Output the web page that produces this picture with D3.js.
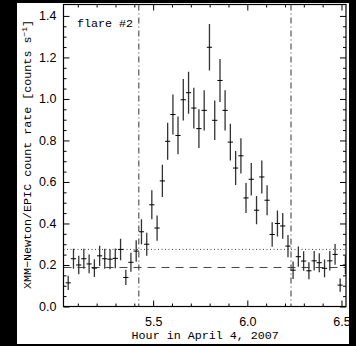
<!DOCTYPE html>
<style>
body {
  margin: 0;
  background: #000;
}
.tick text {
  font-family: 'Liberation Sans', sans-serif;
  font-size: 12.5px;
  fill: #000;
}
.lab {
  font-family: 'Liberation Mono', monospace;
  font-size: 11.7px;
  fill: #000;
}
</style>
<svg width="356" height="346"></svg>
<script src="https://d3js.org/d3.v7.min.js"></script>
<script>
// light curve, 100 s bins (hours on April 4, 2007)
var times = [5.049, 5.077, 5.105, 5.132, 5.160, 5.188, 5.216, 5.243, 5.271, 5.299,
             5.327, 5.355, 5.382, 5.410, 5.438, 5.466, 5.493, 5.521, 5.549, 5.577,
             5.605, 5.632, 5.660, 5.688, 5.716, 5.743, 5.771, 5.799, 5.827, 5.855,
             5.882, 5.910, 5.938, 5.966, 5.993, 6.021, 6.049, 6.077, 6.105, 6.132,
             6.160, 6.188, 6.216, 6.243, 6.271, 6.299, 6.327, 6.355, 6.382, 6.410,
             6.438, 6.466, 6.493, 6.521];
var rates = [0.114, 0.230, 0.200, 0.230, 0.205, 0.185, 0.244, 0.230, 0.228, 0.232,
             0.275, 0.140, 0.213, 0.267, 0.360, 0.300, 0.490, 0.378, 0.605, 0.796,
             0.925, 0.824, 0.996, 1.030, 0.956, 0.857, 0.945, 1.249, 0.897, 1.089,
             0.945, 0.792, 0.667, 0.726, 0.523, 0.613, 0.464, 0.624, 0.512, 0.347,
             0.400, 0.388, 0.291, 0.175, 0.240, 0.219, 0.172, 0.220, 0.211, 0.184,
             0.220, 0.251, 0.103, 0.200];
var errs = [0.034, 0.048, 0.045, 0.048, 0.045, 0.043, 0.049, 0.048, 0.048, 0.048,
            0.052, 0.037, 0.046, 0.052, 0.060, 0.055, 0.070, 0.061, 0.078, 0.089,
            0.096, 0.091, 0.100, 0.101, 0.098, 0.093, 0.097, 0.112, 0.095, 0.104,
            0.097, 0.089, 0.082, 0.085, 0.072, 0.078, 0.068, 0.079, 0.072, 0.059,
            0.063, 0.062, 0.054, 0.042, 0.049, 0.047, 0.041, 0.047, 0.046, 0.043,
            0.047, 0.050, 0.032, 0.045];
var binHalf = 50 / 3600;

var flareStart = 5.424, flareEnd = 6.232;   // dash-dot markers
var quiescent = 0.188;                      // dashed level
var threshold = 0.275;                      // dotted level

var xTicks = [5.5, 6.0, 6.5];
var yTicks = [0.0, 0.2, 0.4, 0.6, 0.8, 1.0, 1.2, 1.4];

var svg = d3.select("svg");
var L = 63.5, R = 346, T = 4.5, B = 306.5;

svg.append("rect")
    .attr("x", 17).attr("y", 3)
    .attr("width", 332).attr("height", 341)
    .attr("fill", "#fff");

var x = d3.scaleLinear().domain([5.024, 6.524]).range([L, R]);
var y = d3.scaleLinear().domain([0, 1.455]).range([B, T]);

var xMinor = d3.range(5.1, 6.55, 0.1).filter(function(v) { return Math.abs(v * 2 - Math.round(v * 2)) > 0.01; });
var yMinor = d3.range(0.05, 1.45, 0.05).filter(function(v) { return Math.abs(v * 5 - Math.round(v * 5)) > 0.01; });

function clean(g) { g.select(".domain").remove(); g.selectAll("line").attr("stroke", "#000"); }

svg.append("g").attr("transform", "translate(0," + B + ")")
    .call(d3.axisBottom(x).tickValues(xTicks).tickSize(-6).tickPadding(11).tickFormat(d3.format(".1f")))
    .call(clean);
svg.append("g").attr("transform", "translate(0," + B + ")")
    .call(d3.axisBottom(x).tickValues(xMinor).tickSize(-3).tickFormat(""))
    .call(clean);
svg.append("g").attr("transform", "translate(0," + T + ")")
    .call(d3.axisTop(x).tickValues(xTicks).tickSize(-6).tickFormat(""))
    .call(clean);
svg.append("g").attr("transform", "translate(0," + T + ")")
    .call(d3.axisTop(x).tickValues(xMinor).tickSize(-3).tickFormat(""))
    .call(clean);
svg.append("g").attr("transform", "translate(" + L + ",0)")
    .call(d3.axisLeft(y).tickValues(yTicks).tickSize(-6).tickPadding(7).tickFormat(d3.format(".1f")))
    .call(clean);
svg.append("g").attr("transform", "translate(" + L + ",0)")
    .call(d3.axisLeft(y).tickValues(yMinor).tickSize(-3).tickFormat(""))
    .call(clean);
svg.append("g").attr("transform", "translate(" + R + ",0)")
    .call(d3.axisRight(y).tickValues(yTicks).tickSize(-6).tickFormat(""))
    .call(clean);
svg.append("g").attr("transform", "translate(" + R + ",0)")
    .call(d3.axisRight(y).tickValues(yMinor).tickSize(-3).tickFormat(""))
    .call(clean);

svg.append("clipPath").attr("id", "clip")
  .append("rect").attr("x", L).attr("y", T).attr("width", R - L).attr("height", B - T);

var plot = svg.append("g").attr("clip-path", "url(#clip)");

// reference levels
plot.append("line")
    .attr("x1", L).attr("x2", R)
    .attr("y1", y(threshold)).attr("y2", y(threshold))
    .attr("stroke", "#444").attr("stroke-dasharray", "1,2.5");
plot.append("line")
    .attr("x1", L).attr("x2", R)
    .attr("y1", y(quiescent)).attr("y2", y(quiescent))
    .attr("stroke", "#444").attr("stroke-dasharray", "8,6");

[flareStart, flareEnd].forEach(function(t) {
  plot.append("line")
      .attr("x1", x(t)).attr("x2", x(t))
      .attr("y1", T).attr("y2", B)
      .attr("stroke", "#333").attr("stroke-dasharray", "6,3,1,3");
});

// error bars
var pts = plot.selectAll("g.pt")
    .data(times.map(function(t, i) { return {t: t, r: rates[i], e: errs[i]}; }))
    .enter().append("g").attr("class", "pt");

pts.append("line")
    .attr("x1", function(d) { return x(d.t); })
    .attr("x2", function(d) { return x(d.t); })
    .attr("y1", function(d) { return y(d.r - d.e); })
    .attr("y2", function(d) { return y(d.r + d.e); })
    .attr("stroke", "#333").attr("stroke-width", 1.3);

pts.append("line")
    .attr("x1", function(d) { return x(d.t - binHalf); })
    .attr("x2", function(d) { return x(d.t + binHalf); })
    .attr("y1", function(d) { return y(d.r); })
    .attr("y2", function(d) { return y(d.r); })
    .attr("stroke", "#000").attr("stroke-width", 1);

// frame
svg.append("rect")
    .attr("x", L).attr("y", T)
    .attr("width", R - L).attr("height", B - T)
    .attr("fill", "none").attr("stroke", "#000").attr("stroke-width", 1.2);

svg.append("text").attr("class", "lab")
    .attr("x", 77).attr("y", 27)
    .text("flare #2");

svg.append("text").attr("class", "lab")
    .attr("x", (L + R) / 2 + 0.5).attr("y", 339)
    .attr("text-anchor", "middle")
    .text("Hour in April 4, 2007");

var yl = svg.append("text").attr("class", "lab")
    .attr("transform", "translate(31," + ((T + B) / 2 - 1) + ") rotate(-90)")
    .attr("text-anchor", "middle");
yl.append("tspan").text("XMM\u2212Newton/EPIC count rate [counts s");
yl.append("tspan").attr("dy", -4).attr("font-size", "8px").text("\u22121");
yl.append("tspan").attr("dy", 4).text("]");
</script>
